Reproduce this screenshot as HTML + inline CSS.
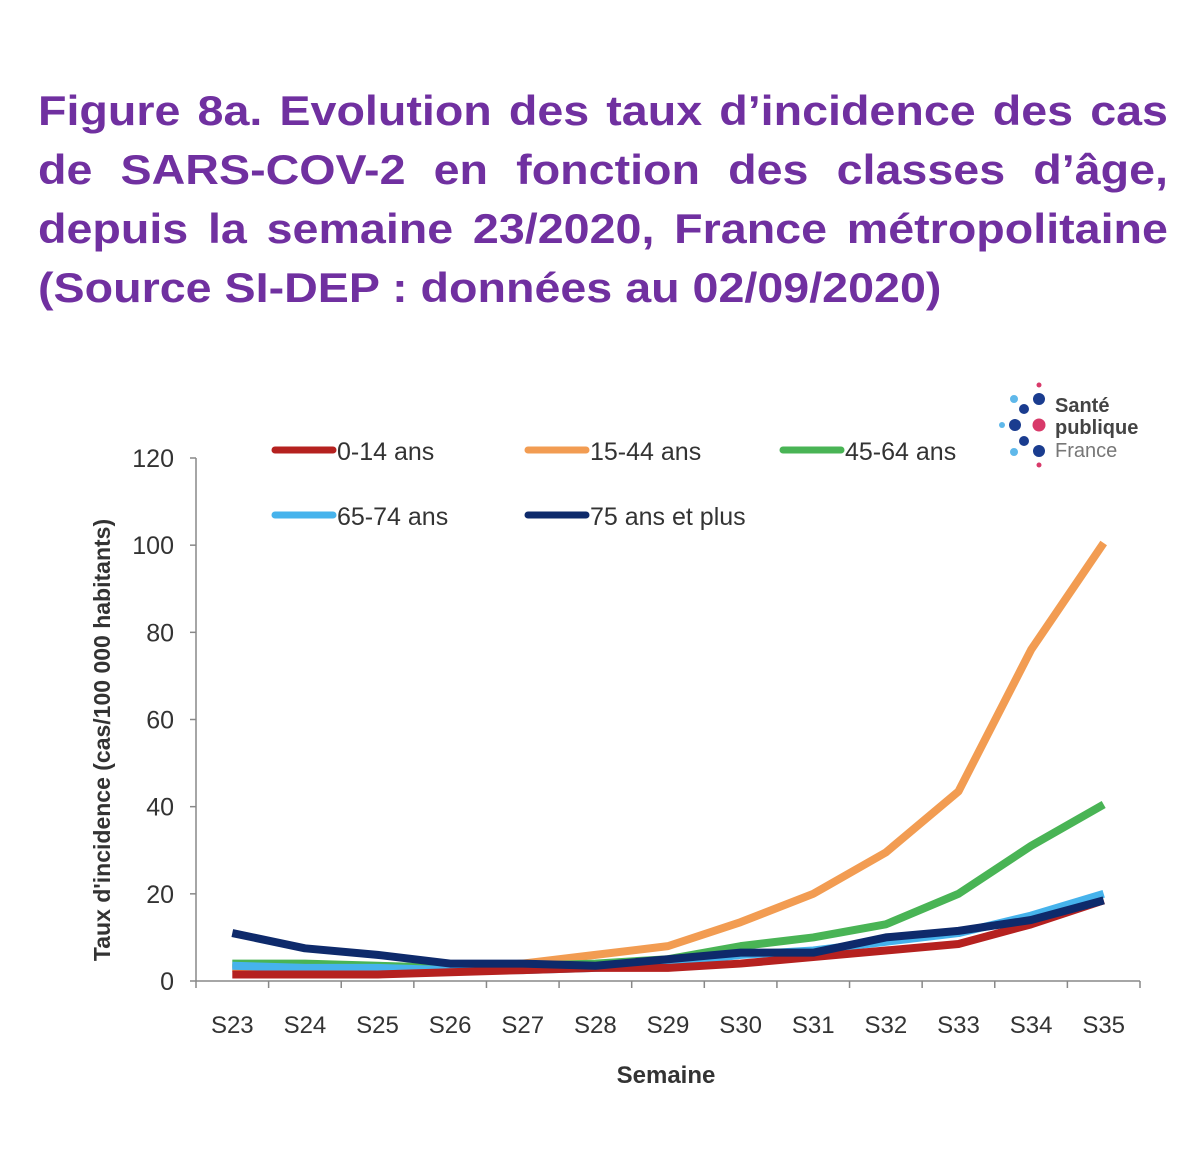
<!DOCTYPE html>
<html><head><meta charset="utf-8"><style>
body{margin:0;background:#fff;width:1200px;height:1154px;overflow:hidden;font-family:"Liberation Sans",sans-serif}
#title{position:absolute;left:38px;top:81px;width:1018px;color:#7030a0;font-weight:bold;font-size:42px;line-height:59px;margin:0;transform:scaleX(1.11);transform-origin:0 0}
#title div{text-align:justify;text-align-last:justify;white-space:nowrap}
#title div.last{text-align-last:left}
svg{position:absolute;left:0;top:0}
</style></head><body>
<div id="title">
<div>Figure 8a. Evolution des taux d’incidence des cas</div>
<div>de SARS-COV-2 en fonction des classes d’âge,</div>
<div>depuis la semaine 23/2020, France métropolitaine</div>
<div class="last">(Source SI-DEP : données au 02/09/2020)</div>
</div>
<svg id="chart" width="1200" height="1154"></svg>
<script>
const categories=["S23","S24","S25","S26","S27","S28","S29","S30","S31","S32","S33","S34","S35"];
const yTicks=[0,20,40,60,80,100,120];
const s0_14=[1.5,1.5,1.5,2,2.5,3,3,4,5.5,7,8.5,13,18.5];
const s15_44=[3,3,3,3,4,6,8,13.5,20,29.5,43.5,76,100.5];
const s45_64=[4,4,3.5,3,3.5,4,5,8,10,13,20,31,40.5];
const s65_74=[3.5,3,3,2.5,2.5,3,4,6,7,9,11,15,20];
const s75=[11,7.5,6,4,4,3.5,5,6.5,6.5,10,11.5,14,18.5];
const seriesNames=["0-14 ans","15-44 ans","45-64 ans","65-74 ans","75 ans et plus"];
const NS="http://www.w3.org/2000/svg";
const svg=document.getElementById('chart');
const x0=196,x1=1140,y0=981,yTop=458;
const step=(x1-x0)/categories.length;
const X=i=>x0+step*(i+0.5);
const Y=v=>y0-(v/120)*(y0-yTop);
function el(t,a){const e=document.createElementNS(NS,t);for(const k in a)e.setAttribute(k,a[k]);svg.appendChild(e);return e;}
const f='"Liberation Sans","DejaVu Sans",sans-serif';
let ax=el('line',{x1:x0,y1:Y(120),x2:x0,y2:y0,stroke:'#888','stroke-width':1.5});

let bx=el('line',{x1:x0,y1:y0,x2:x1,y2:y0,stroke:'#888','stroke-width':1.5});

yTicks.forEach(v=>{
 let t=el('line',{x1:x0-6,y1:Y(v),x2:x0,y2:Y(v),stroke:'#888','stroke-width':1.5});
 
 let l=el('text',{x:x0-22,y:Y(v)+9,'text-anchor':'end','font-size':25,fill:'#333','font-family':f});
 l.textContent=v;
 
});
for(let i=0;i<=categories.length;i++){
 let t=el('line',{x1:x0+step*i,y1:y0,x2:x0+step*i,y2:y0+7,stroke:'#888','stroke-width':1.5});
 
}
categories.forEach((c,i)=>{
 let l=el('text',{x:X(i),y:1033,'text-anchor':'middle','font-size':24,fill:'#333','font-family':f});
 l.textContent=c;
 
});
let xt=el('text',{x:666,y:1083,'text-anchor':'middle','font-size':24,'font-weight':'bold',fill:'#333','font-family':f});
xt.textContent='Semaine';

let yt=el('text',{x:0,y:0,'text-anchor':'middle','font-size':23,'font-weight':'bold',fill:'#333','font-family':f,transform:'translate(110,740) rotate(-90)'});
yt.textContent="Taux d'incidence (cas/100 000 habitants)";

const data=[s0_14,s15_44,s45_64,s65_74,s75];
const colors=['#b5211f','#f29c52','#49b455','#46b3ec','#0e2a6b'];
const order=[1,2,3,0,4];
order.forEach(k=>{
 let p=el('polyline',{points:data[k].map((v,i)=>X(i)+','+Y(v)).join(' '),fill:'none',stroke:colors[k],'stroke-width':8,'stroke-linejoin':'round'});
 
});
const legPos=[[275,450],[528,450],[783,450],[275,515],[528,515]];
seriesNames.forEach((n,k)=>{
 let [lx,ly]=legPos[k];
 let s=el('line',{x1:lx,y1:ly,x2:lx+58,y2:ly,stroke:colors[k],'stroke-width':7,'stroke-linecap':'round'});
 
 let t=el('text',{x:lx+62,y:ly+10,'font-size':25,fill:'#333','font-family':f});
 t.textContent=n;
 
});
const g=document.createElementNS(NS,'g');svg.appendChild(g);


[[1039,385,2.5,'#d83a6a'],[1039,399,6,'#1a3c8f'],[1014,399,4,'#5fb8ea'],[1024,409,5,'#1a3c8f'],[1002,425,3,'#5fb8ea'],[1015,425,6,'#1a3c8f'],[1039,425,6.5,'#d83a6a'],[1024,441,5,'#1a3c8f'],[1014,452,4,'#5fb8ea'],[1039,451,6,'#1a3c8f'],[1039,465,2.5,'#d83a6a']].forEach(c=>{
 const e=document.createElementNS(NS,'circle');e.setAttribute('cx',c[0]);e.setAttribute('cy',c[1]);e.setAttribute('r',c[2]);e.setAttribute('fill',c[3]);g.appendChild(e);
});
[['Santé',412,'bold','#444'],['publique',434,'bold','#444'],['France',457,'normal','#777']].forEach(a=>{
 const t=document.createElementNS(NS,'text');t.setAttribute('x',1055);t.setAttribute('y',a[1]);t.setAttribute('font-size',20);t.setAttribute('font-weight',a[2]);t.setAttribute('fill',a[3]);t.setAttribute('font-family',f);t.textContent=a[0];g.appendChild(t);
});
</script>
</body></html>
